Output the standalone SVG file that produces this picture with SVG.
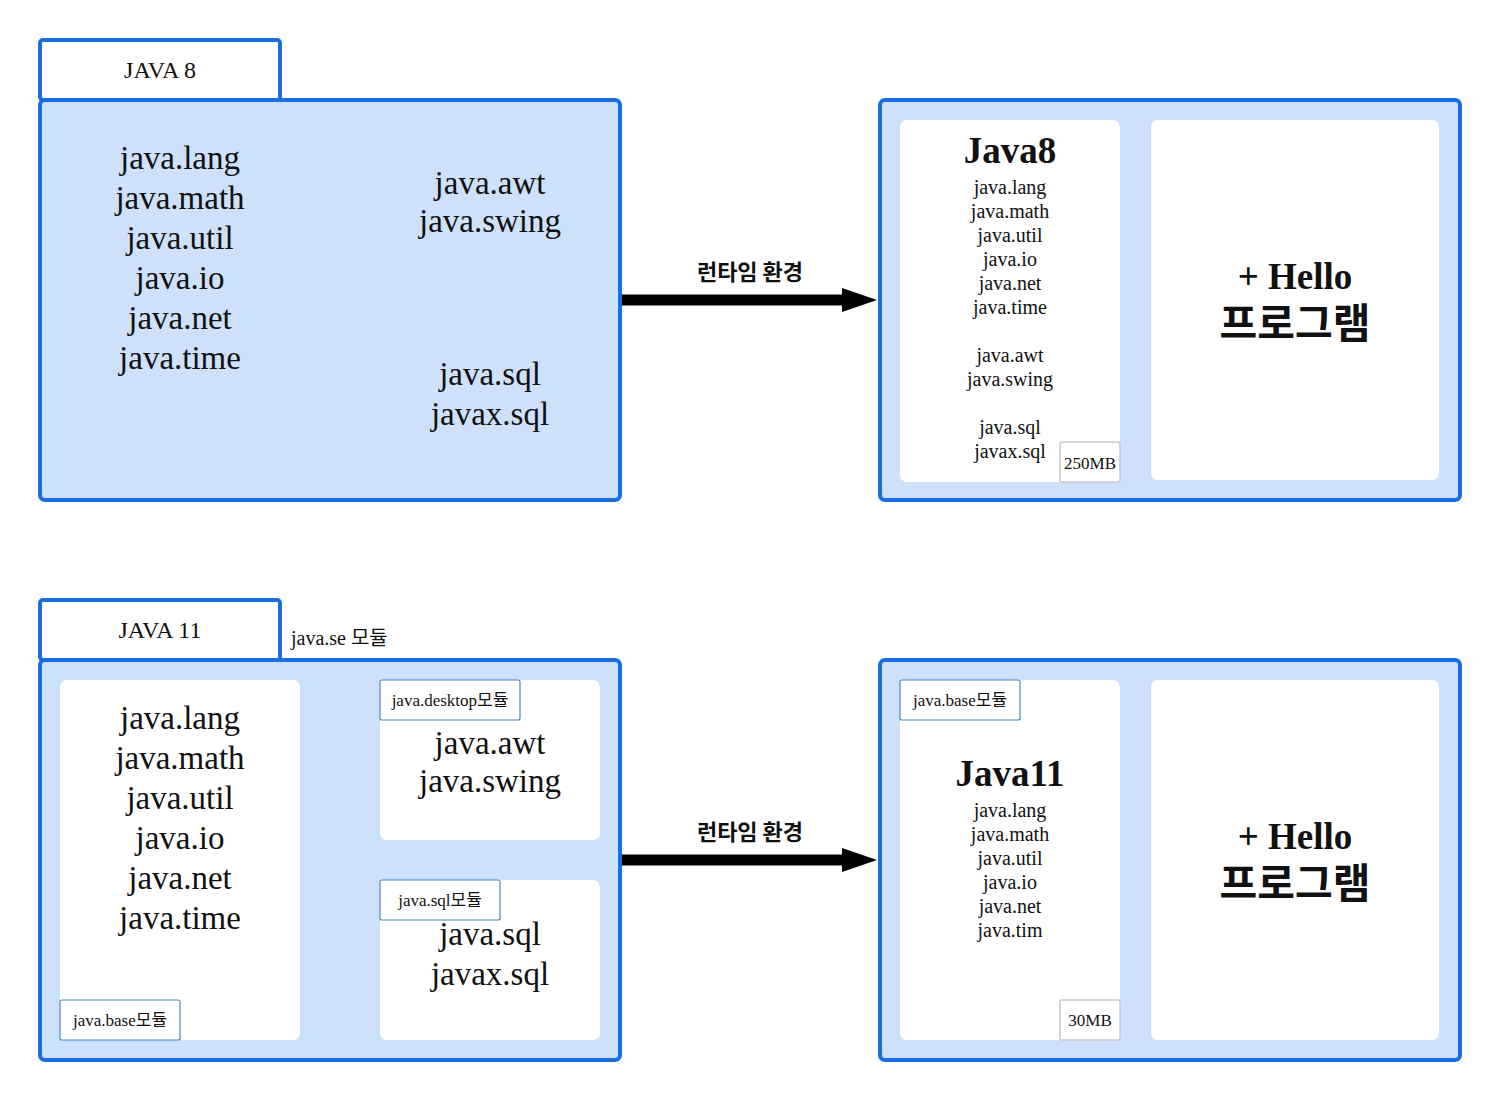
<svg xmlns="http://www.w3.org/2000/svg" width="1500" height="1100" viewBox="0 0 1500 1100">
<style>
.tab{fill:#ffffff;stroke:#1a6fdc;stroke-width:4}
.box{fill:#cde1fb;stroke:#1a6fdc;stroke-width:4}
.inner{fill:#ffffff;stroke:none}
.tag{fill:#ffffff;stroke:#4a86c8;stroke-width:1.2}
.size{fill:#ffffff;stroke:#c9c9c9;stroke-width:1.5}
text{font-family:"Liberation Serif","Noto Sans CJK KR",serif;fill:#111;text-anchor:middle;dominant-baseline:central}
.big{font-size:33px}
.small{font-size:20px}
.tagt{font-size:17px}
.tabt{font-size:24px}
.title{font-size:37px;font-weight:bold}
.kr{font-family:"Noto Sans CJK KR",sans-serif;font-weight:bold}
.lbl{font-size:22px}
.prog{font-size:41px}
</style>

<g id="java8-group">
<rect class="tab" x="40" y="40" width="240" height="60" rx="3"/>
<text class="tabt" x="160" y="70">JAVA 8</text>
<rect class="box" x="40" y="100" width="580" height="400" rx="5"/>
<text class="big" x="180" y="158">java.lang</text>
<text class="big" x="180" y="198">java.math</text>
<text class="big" x="180" y="238">java.util</text>
<text class="big" x="180" y="278">java.io</text>
<text class="big" x="180" y="318">java.net</text>
<text class="big" x="180" y="358">java.time</text>
<text class="big" x="490" y="183">java.awt</text>
<text class="big" x="490" y="221">java.swing</text>
<text class="big" x="490" y="374">java.sql</text>
<text class="big" x="490" y="414">javax.sql</text>
</g>

<g id="java8-runtime">
<rect class="box" x="880" y="100" width="580" height="400" rx="5"/>
<rect class="inner" x="900" y="120" width="220" height="362" rx="7"/>
<rect class="inner" x="1151" y="120" width="288" height="360" rx="7"/>
<text class="title" x="1010" y="150">Java8</text>
<text class="small" x="1010" y="187">java.lang</text>
<text class="small" x="1010" y="211">java.math</text>
<text class="small" x="1010" y="235">java.util</text>
<text class="small" x="1010" y="259">java.io</text>
<text class="small" x="1010" y="283">java.net</text>
<text class="small" x="1010" y="307">java.time</text>
<text class="small" x="1010" y="355">java.awt</text>
<text class="small" x="1010" y="379">java.swing</text>
<text class="small" x="1010" y="427">java.sql</text>
<text class="small" x="1010" y="451">javax.sql</text>
<rect class="size" x="1060" y="442" width="60" height="40" rx="2"/>
<text class="tagt" x="1090" y="463">250MB</text>
<text class="title" x="1295" y="276">+ Hello</text>
<text class="kr prog" x="1295" y="320">프로그램</text>
</g>

<g id="java11-group">
<rect class="tab" x="40" y="600" width="240" height="60" rx="3"/>
<text class="tabt" x="160" y="630">JAVA 11</text>
<text class="tagt" x="291" y="638" style="text-anchor:start;font-size:20px">java.se 모듈</text>
<rect class="box" x="40" y="660" width="580" height="400" rx="5"/>
<rect class="inner" x="60" y="680" width="240" height="360" rx="7"/>
<text class="big" x="180" y="718">java.lang</text>
<text class="big" x="180" y="758">java.math</text>
<text class="big" x="180" y="798">java.util</text>
<text class="big" x="180" y="838">java.io</text>
<text class="big" x="180" y="878">java.net</text>
<text class="big" x="180" y="918">java.time</text>
<rect class="tag" x="60" y="1000" width="120" height="40" rx="2"/>
<text class="tagt" x="120" y="1020">java.base모듈</text>
<rect class="inner" x="380" y="680" width="220" height="160" rx="7"/>
<rect class="tag" x="380" y="680" width="140" height="40" rx="2"/>
<text class="tagt" x="450" y="700">java.desktop모듈</text>
<text class="big" x="490" y="743">java.awt</text>
<text class="big" x="490" y="781">java.swing</text>
<rect class="inner" x="380" y="880" width="220" height="160" rx="7"/>
<rect class="tag" x="380" y="880" width="120" height="40" rx="2"/>
<text class="tagt" x="440" y="900">java.sql모듈</text>
<text class="big" x="490" y="934">java.sql</text>
<text class="big" x="490" y="974">javax.sql</text>
</g>

<g id="java11-runtime">
<rect class="box" x="880" y="660" width="580" height="400" rx="5"/>
<rect class="inner" x="900" y="680" width="220" height="360" rx="7"/>
<rect class="inner" x="1151" y="680" width="288" height="360" rx="7"/>
<rect class="tag" x="900" y="680" width="120" height="40" rx="2"/>
<text class="tagt" x="960" y="700">java.base모듈</text>
<text class="title" x="1010" y="773">Java11</text>
<text class="small" x="1010" y="810">java.lang</text>
<text class="small" x="1010" y="834">java.math</text>
<text class="small" x="1010" y="858">java.util</text>
<text class="small" x="1010" y="882">java.io</text>
<text class="small" x="1010" y="906">java.net</text>
<text class="small" x="1010" y="930">java.tim</text>
<rect class="size" x="1060" y="1000" width="60" height="40" rx="2"/>
<text class="tagt" x="1090" y="1020">30MB</text>
<text class="title" x="1295" y="836">+ Hello</text>
<text class="kr prog" x="1295" y="880">프로그램</text>
</g>

<g id="connectors">
<line x1="622" y1="300" x2="845" y2="300" stroke="#000" stroke-width="11"/>
<polygon points="842,288 877,300 842,312" fill="#000"/>
<text class="kr lbl" x="750" y="270">런타임 환경</text>
<line x1="622" y1="860" x2="845" y2="860" stroke="#000" stroke-width="11"/>
<polygon points="842,848 877,860 842,872" fill="#000"/>
<text class="kr lbl" x="750" y="830">런타임 환경</text>
</g>
</svg>
